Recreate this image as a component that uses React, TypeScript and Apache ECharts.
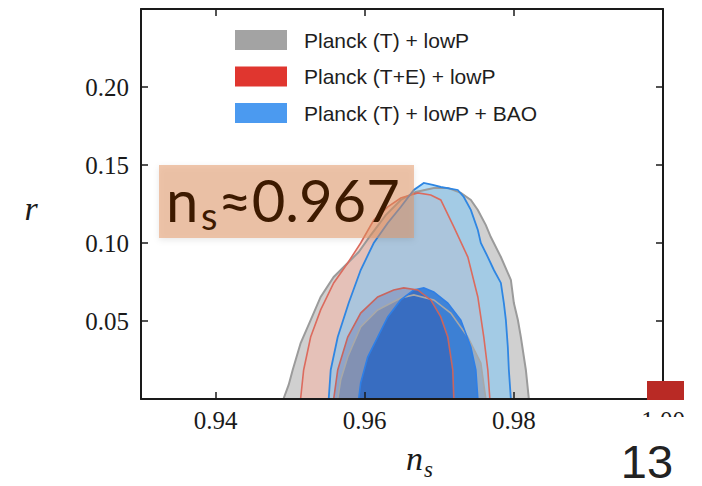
import React, { useEffect, useRef } from "react";
import * as echarts from "echarts";

// ---- data ----
const nsTicks = [0.94, 0.96, 0.98, 1.0];
const rTicks = [0.05, 0.1, 0.15, 0.2];
const legendNames = ["Planck (T) + lowP", "Planck (T+E) + lowP", "Planck (T) + lowP + BAO"];

// [n_s, r] contour points
const grayOuter: number[][] = [
  [0.9491, 0], [0.9498, 0.009], [0.95034, 0.0186], [0.95141, 0.0359], [0.95275, 0.0506],
  [0.95409, 0.0654], [0.95584, 0.0782], [0.95772, 0.0872], [0.95919, 0.0942], [0.96081, 0.1051],
  [0.96282, 0.1179], [0.96483, 0.1276], [0.96685, 0.1327], [0.96926, 0.1353], [0.97114, 0.1353],
  [0.97289, 0.1321], [0.97423, 0.1276], [0.97517, 0.1212], [0.97624, 0.1115], [0.97691, 0.1038],
  [0.97826, 0.091], [0.9796, 0.0763], [0.98, 0.0615], [0.98054, 0.0506], [0.98094, 0.0397],
  [0.98161, 0.0186], [0.98201, 0],
];
const redOuter: number[][] = [
  [0.9514, 0], [0.95181, 0.0186], [0.95275, 0.0397], [0.95409, 0.0571], [0.95584, 0.0744],
  [0.95772, 0.0872], [0.95946, 0.1], [0.96121, 0.1147], [0.96309, 0.1231], [0.96483, 0.1288],
  [0.96711, 0.1321], [0.96886, 0.1308], [0.9702, 0.1276], [0.97195, 0.1103], [0.97383, 0.091],
  [0.97517, 0.0654], [0.97597, 0.0397], [0.97651, 0.0186], [0.97678, 0],
];
const blueOuter: number[][] = [
  [0.95517, 0], [0.95544, 0.0186], [0.95638, 0.0397], [0.95785, 0.0615], [0.95946, 0.0827],
  [0.96121, 0.1], [0.96309, 0.1128], [0.96483, 0.1231], [0.96658, 0.134], [0.96792, 0.1385],
  [0.96913, 0.1372], [0.9702, 0.1359], [0.97248, 0.134], [0.97329, 0.1295], [0.97423, 0.1212],
  [0.97517, 0.1083], [0.97557, 0.1], [0.97651, 0.091], [0.97732, 0.0827], [0.97826, 0.0744],
  [0.97866, 0.0615], [0.97893, 0.0506], [0.97919, 0.0333], [0.97933, 0.0186], [0.9796, 0],
];
const grayInner: number[][] = [
  [0.95638, 0], [0.95678, 0.0122], [0.95772, 0.0269], [0.95946, 0.0462], [0.96174, 0.0571],
  [0.96483, 0.0647], [0.96658, 0.0667], [0.96926, 0.0635], [0.97154, 0.0551], [0.97383, 0.0397],
  [0.97557, 0.0231], [0.97624, 0],
];
const redInner: number[][] = [
  [0.95584, 0], [0.95638, 0.0186], [0.95772, 0.0397], [0.95946, 0.0551], [0.96174, 0.0654],
  [0.96389, 0.0699], [0.96523, 0.0712], [0.96711, 0.0699], [0.96886, 0.0635], [0.9702, 0.0526],
  [0.97114, 0.0397], [0.97181, 0.0186], [0.97195, 0],
];
const blueInner: number[][] = [
  [0.95919, 0], [0.95946, 0.0103], [0.9604, 0.0269], [0.96174, 0.0397], [0.96309, 0.0526],
  [0.96483, 0.0635], [0.96658, 0.0699], [0.96792, 0.0712], [0.96926, 0.0686], [0.97114, 0.0615],
  [0.97289, 0.0506], [0.97423, 0.0333], [0.9749, 0.0186], [0.97517, 0],
];

const legendColors = ["#a3a3a3", "#e0362f", "#4b9af0"];

function polySeries(name: string, pts: number[][], style: any, z: number) {
  return {
    type: "custom",
    name,
    z,
    data: pts,
    encode: { x: 0, y: 1 },
    renderItem: (params: any, api: any) => {
      if (params.dataIndex !== 0) return null;
      return {
        type: "polygon",
        shape: { points: pts.map((p) => api.coord(p)) },
        style,
      };
    },
  };
}

export default function App() {
  const ref = useRef<HTMLDivElement>(null);
  useEffect(() => {
    if (!ref.current) return;
    const chart = echarts.init(ref.current, null, { renderer: "svg" });
    const axisLine = { onZero: false, lineStyle: { color: "#1a1a1a", width: 2 } };
    const tickStyle = { color: "#1a1a1a", width: 1.5 };
    const labelFont = { fontFamily: "Liberation Serif", fontSize: 25, color: "#1a1a1a" };
    const fills = [
      polySeries(legendNames[0], grayOuter, { fill: "rgba(155,155,155,0.47)" }, 2),
      polySeries(legendNames[1], redOuter, { fill: "rgba(250,178,160,0.5)" }, 2),
      polySeries(legendNames[2], blueOuter, { fill: "rgba(135,200,242,0.62)" }, 2),
      polySeries(legendNames[0], grayInner, { fill: "rgba(120,128,145,0.35)" }, 2),
      polySeries(legendNames[2], blueInner, { fill: "rgba(45,120,215,0.85)" }, 2),
      polySeries(legendNames[1], redInner, { fill: "rgba(40,35,120,0.2)" }, 2),
    ];
    const strokes = [
      polySeries(legendNames[0], grayOuter, { fill: "none", stroke: "#9b9b9b", lineWidth: 2 }, 3),
      polySeries(legendNames[1], redOuter, { fill: "none", stroke: "#dc6b5e", lineWidth: 1.6 }, 3),
      polySeries(legendNames[2], blueOuter, { fill: "none", stroke: "#2f86e2", lineWidth: 1.8 }, 3),
      polySeries(legendNames[0], grayInner, { fill: "none", stroke: "#a8a8a8", lineWidth: 1.6 }, 3),
      polySeries(legendNames[2], blueInner, { fill: "none", stroke: "#2f7fe6", lineWidth: 1.6 }, 3),
      polySeries(legendNames[1], redInner, { fill: "none", stroke: "#c9655e", lineWidth: 1.6 }, 3),
    ];
    chart.setOption({
      animation: false,
      backgroundColor: "#ffffff",
      grid: { left: 141, right: 39, top: 9, bottom: 87 },
      legend: {
        orient: "vertical",
        left: 235,
        top: 29,
        padding: 0,
        itemWidth: 52,
        itemHeight: 20,
        itemGap: 14.5,
        selectedMode: false,
        icon: "rect",
        textStyle: {
          fontFamily: "Liberation Sans",
          fontSize: 21,
          lineHeight: 22,
          color: "#1e1e1e",
          padding: [0, 0, 0, 12],
        },
        data: legendNames.map((n, i) => ({ name: n, itemStyle: { color: legendColors[i] } })),
      },
      xAxis: [
        {
          type: "value", min: 0.93, max: 1.0, position: "bottom", z: 10,
          axisLine, splitLine: { show: false },
          axisTick: { inside: true, length: 7, customValues: nsTicks, lineStyle: tickStyle },
          axisLabel: { customValues: nsTicks, formatter: (v: number) => v.toFixed(2), margin: 9, ...labelFont },
        },
        {
          type: "value", min: 0.93, max: 1.0, position: "top", z: 10,
          axisLine, splitLine: { show: false },
          axisTick: { inside: true, length: 7, customValues: nsTicks, lineStyle: tickStyle },
          axisLabel: { show: false },
        },
      ],
      yAxis: [
        {
          type: "value", min: 0, max: 0.25, position: "left", z: 10,
          axisLine, splitLine: { show: false },
          axisTick: { inside: true, length: 7, customValues: rTicks, lineStyle: tickStyle },
          axisLabel: { customValues: rTicks, formatter: (v: number) => v.toFixed(2), margin: 12, ...labelFont },
        },
        {
          type: "value", min: 0, max: 0.25, position: "right", z: 10,
          axisLine, splitLine: { show: false },
          axisTick: { inside: true, length: 7, customValues: rTicks, lineStyle: tickStyle },
          axisLabel: { show: false },
        },
      ],
      series: [...fills, ...strokes],
      graphic: [
        {
          type: "rect", z: 100,
          shape: { x: 159, y: 165, width: 255, height: 73 },
          style: { fill: "rgba(226,146,94,0.5)", shadowBlur: 6, shadowColor: "rgba(0,0,0,0.18)", shadowOffsetY: 2 },
        },
        { type: "text", z: 101, x: 166, y: 199, style: { text: "n", fontFamily: "Lato", fontSize: 58, fill: "#3d1a00", verticalAlign: "middle" } },
        { type: "text", z: 101, x: 201, y: 215, style: { text: "s", fontFamily: "Lato", fontSize: 38, fill: "#3d1a00", verticalAlign: "middle" } },
        { type: "text", z: 101, x: 218, y: 199, style: { text: "≈0.967", fontFamily: "Lato", fontSize: 58, fill: "#3d1a00", verticalAlign: "middle" } },
        { type: "rect", z: 100, shape: { x: 622, y: 417, width: 80, height: 24 }, style: { fill: "#ffffff" } },
        { type: "rect", z: 101, shape: { x: 647, y: 381, width: 37, height: 19 }, style: { fill: "#b92a25" } },
        { type: "text", z: 101, x: 647, y: 461, style: { text: "13", fontFamily: "Liberation Sans", fontSize: 47, lineHeight: 44, fill: "#222", align: "center", verticalAlign: "middle" } },
        { type: "text", z: 101, x: 31, y: 208, style: { text: "r", fontFamily: "Liberation Serif", fontStyle: "italic", fontSize: 34, fill: "#1a1a1a", align: "center", verticalAlign: "middle" } },
        { type: "text", z: 101, x: 406, y: 458, style: { text: "n", fontFamily: "Liberation Serif", fontStyle: "italic", fontSize: 34, fill: "#1a1a1a", verticalAlign: "middle" } },
        { type: "text", z: 101, x: 424, y: 469, style: { text: "s", fontFamily: "Liberation Serif", fontStyle: "italic", fontSize: 23, fill: "#1a1a1a", verticalAlign: "middle" } },
      ],
    });
    return () => chart.dispose();
  }, []);
  return <div ref={ref} style={{ position: "fixed", left: 0, top: 0, width: 702, height: 486 }} />;
}
